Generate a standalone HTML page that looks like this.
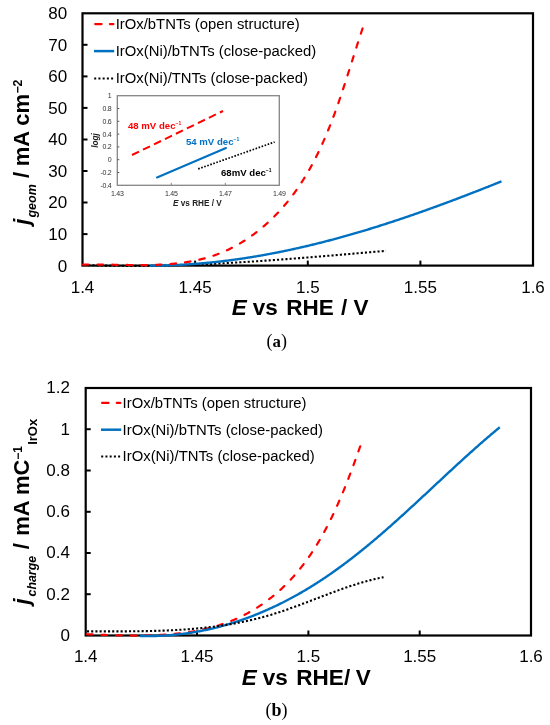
<!DOCTYPE html>
<html><head><meta charset="utf-8"><style>
html,body{margin:0;padding:0;background:#fff;width:550px;height:725px;overflow:hidden}
svg{display:block;filter:blur(0.35px)}
</style></head><body>
<svg width="550" height="725" viewBox="0 0 550 725" font-family="Liberation Sans, sans-serif" fill="#000">
<rect x="82.5" y="13.3" width="450.5" height="252.3" fill="none" stroke="#000" stroke-width="2.2"/>
<line x1="195.1" y1="265.6" x2="195.1" y2="260.6" stroke="#000" stroke-width="2"/>
<line x1="307.8" y1="265.6" x2="307.8" y2="260.6" stroke="#000" stroke-width="2"/>
<line x1="420.4" y1="265.6" x2="420.4" y2="260.6" stroke="#000" stroke-width="2"/>
<line x1="82.5" y1="234.1" x2="87.5" y2="234.1" stroke="#000" stroke-width="2"/>
<line x1="82.5" y1="202.5" x2="87.5" y2="202.5" stroke="#000" stroke-width="2"/>
<line x1="82.5" y1="171.0" x2="87.5" y2="171.0" stroke="#000" stroke-width="2"/>
<line x1="82.5" y1="139.5" x2="87.5" y2="139.5" stroke="#000" stroke-width="2"/>
<line x1="82.5" y1="107.9" x2="87.5" y2="107.9" stroke="#000" stroke-width="2"/>
<line x1="82.5" y1="76.4" x2="87.5" y2="76.4" stroke="#000" stroke-width="2"/>
<line x1="82.5" y1="44.8" x2="87.5" y2="44.8" stroke="#000" stroke-width="2"/>
<path d="M84.00 264.99 L84.76 265.01 L85.52 265.04 L86.28 265.07 L87.04 265.10 L87.80 265.12 L88.56 265.15 L89.32 265.17 L90.08 265.20 L90.84 265.22 L91.60 265.25 L92.36 265.27 L93.12 265.29 L93.88 265.31 L94.63 265.34 L95.39 265.36 L96.15 265.38 L96.91 265.40 L97.67 265.42 L98.43 265.44 L99.19 265.46 L99.95 265.48 L100.71 265.49 L101.47 265.51 L102.23 265.53 L102.99 265.55 L103.75 265.56 L104.51 265.58 L105.27 265.59 L106.03 265.61 L106.79 265.62 L107.54 265.64 L108.30 265.65 L109.06 265.66 L109.82 265.68 L110.58 265.69 L111.34 265.70 L112.10 265.71 L112.86 265.72 L113.62 265.73 L114.38 265.74 L115.14 265.75 L115.89 265.76 L116.65 265.77 L117.41 265.78 L118.17 265.79 L118.93 265.79 L119.69 265.80 L120.45 265.81 L121.21 265.81 L121.97 265.82 L122.72 265.82 L123.48 265.83 L124.24 265.83 L125.00 265.84 L125.76 265.84 L126.52 265.84 L127.28 265.85 L128.04 265.85 L128.79 265.85 L129.55 265.85 L130.31 265.85 L131.07 265.85 L131.83 265.85 L132.59 265.85 L133.35 265.85 L134.11 265.85 L134.86 265.85 L135.62 265.85 L136.38 265.85 L137.14 265.84 L137.90 265.84 L138.66 265.84 L139.41 265.83 L140.17 265.83 L140.93 265.83 L141.69 265.82 L142.45 265.82 L143.21 265.81 L143.96 265.80 L144.72 265.80 L145.48 265.79 L146.24 265.78 L147.00 265.77 L147.76 265.77 L148.51 265.76 L149.27 265.75 L150.03 265.74 L150.79 265.73 L151.55 265.72 L152.30 265.71 L153.06 265.70 L153.82 265.69 L154.58 265.68 L155.34 265.66 L156.10 265.65 L156.85 265.64 L157.61 265.63 L158.37 265.61 L159.13 265.60 L159.89 265.59 L160.64 265.57 L161.40 265.56 L162.16 265.54 L162.92 265.53 L163.67 265.51 L164.43 265.49 L165.19 265.48 L165.95 265.46 L166.71 265.44 L167.46 265.43 L168.22 265.41 L168.98 265.39 L169.74 265.37 L170.49 265.35 L171.25 265.33 L172.01 265.31 L172.77 265.29 L173.53 265.27 L174.28 265.25 L175.04 265.23 L175.80 265.21 L176.56 265.19 L177.31 265.16 L178.07 265.14 L178.83 265.12 L179.59 265.10 L180.34 265.07 L181.10 265.05 L181.86 265.03 L182.62 265.00 L183.37 264.98 L184.13 264.95 L184.89 264.93 L185.65 264.90 L186.40 264.87 L187.16 264.85 L187.92 264.82 L188.68 264.79 L189.43 264.77 L190.19 264.74 L190.95 264.71 L191.71 264.68 L192.46 264.65 L193.22 264.63 L193.98 264.60 L194.73 264.57 L195.49 264.54 L196.25 264.51 L197.01 264.48 L197.76 264.45 L198.52 264.42 L199.28 264.38 L200.03 264.35 L200.79 264.32 L201.55 264.29 L202.31 264.26 L203.06 264.22 L203.82 264.19 L204.58 264.16 L205.33 264.12 L206.09 264.09 L206.85 264.06 L207.61 264.02 L208.36 263.99 L209.12 263.95 L209.88 263.92 L210.63 263.88 L211.39 263.85 L212.15 263.81 L212.90 263.77 L213.66 263.74 L214.42 263.70 L215.17 263.66 L215.93 263.62 L216.69 263.59 L217.45 263.55 L218.20 263.51 L218.96 263.47 L219.72 263.43 L220.47 263.39 L221.23 263.35 L221.99 263.32 L222.74 263.28 L223.50 263.24 L224.26 263.20 L225.01 263.15 L225.77 263.11 L226.53 263.07 L227.28 263.03 L228.04 262.99 L228.80 262.95 L229.55 262.91 L230.31 262.86 L231.07 262.82 L231.82 262.78 L232.58 262.73 L233.34 262.69 L234.09 262.65 L234.85 262.60 L235.61 262.56 L236.36 262.52 L237.12 262.47 L237.88 262.43 L238.63 262.38 L239.39 262.34 L240.14 262.29 L240.90 262.25 L241.66 262.20 L242.41 262.15 L243.17 262.11 L243.93 262.06 L244.68 262.01 L245.44 261.97 L246.20 261.92 L246.95 261.87 L247.71 261.83 L248.47 261.78 L249.22 261.73 L249.98 261.68 L250.73 261.63 L251.49 261.58 L252.25 261.53 L253.00 261.49 L253.76 261.44 L254.52 261.39 L255.27 261.34 L256.03 261.29 L256.78 261.24 L257.54 261.19 L258.30 261.14 L259.05 261.09 L259.81 261.03 L260.57 260.98 L261.32 260.93 L262.08 260.88 L262.83 260.83 L263.59 260.78 L264.35 260.73 L265.10 260.67 L265.86 260.62 L266.61 260.57 L267.37 260.52 L268.13 260.46 L268.88 260.41 L269.64 260.36 L270.40 260.30 L271.15 260.25 L271.91 260.20 L272.66 260.14 L273.42 260.09 L274.18 260.03 L274.93 259.98 L275.69 259.92 L276.44 259.87 L277.20 259.81 L277.96 259.76 L278.71 259.70 L279.47 259.65 L280.22 259.59 L280.98 259.54 L281.74 259.48 L282.49 259.42 L283.25 259.37 L284.00 259.31 L284.76 259.25 L285.51 259.20 L286.27 259.14 L287.03 259.08 L287.78 259.03 L288.54 258.97 L289.29 258.91 L290.05 258.85 L290.81 258.80 L291.56 258.74 L292.32 258.68 L293.07 258.62 L293.83 258.56 L294.58 258.50 L295.34 258.45 L296.10 258.39 L296.85 258.33 L297.61 258.27 L298.36 258.21 L299.12 258.15 L299.88 258.09 L300.63 258.03 L301.39 257.97 L302.14 257.91 L302.90 257.85 L303.65 257.79 L304.41 257.73 L305.17 257.67 L305.92 257.61 L306.68 257.55 L307.43 257.49 L308.19 257.43 L308.94 257.37 L309.70 257.31 L310.46 257.25 L311.21 257.19 L311.97 257.12 L312.72 257.06 L313.48 257.00 L314.23 256.94 L314.99 256.88 L315.74 256.82 L316.50 256.75 L317.26 256.69 L318.01 256.63 L318.77 256.57 L319.52 256.51 L320.28 256.44 L321.03 256.38 L321.79 256.32 L322.54 256.26 L323.30 256.19 L324.06 256.13 L324.81 256.07 L325.57 256.00 L326.32 255.94 L327.08 255.88 L327.83 255.82 L328.59 255.75 L329.34 255.69 L330.10 255.63 L330.86 255.56 L331.61 255.50 L332.37 255.44 L333.12 255.37 L333.88 255.31 L334.63 255.24 L335.39 255.18 L336.14 255.12 L336.90 255.05 L337.65 254.99 L338.41 254.92 L339.17 254.86 L339.92 254.80 L340.68 254.73 L341.43 254.67 L342.19 254.60 L342.94 254.54 L343.70 254.48 L344.45 254.41 L345.21 254.35 L345.96 254.28 L346.72 254.22 L347.48 254.15 L348.23 254.09 L348.99 254.02 L349.74 253.96 L350.50 253.90 L351.25 253.83 L352.01 253.77 L352.76 253.70 L353.52 253.64 L354.27 253.57 L355.03 253.51 L355.78 253.44 L356.54 253.38 L357.30 253.31 L358.05 253.25 L358.81 253.18 L359.56 253.12 L360.32 253.05 L361.07 252.99 L361.83 252.92 L362.58 252.86 L363.34 252.79 L364.09 252.73 L364.85 252.66 L365.60 252.60 L366.36 252.53 L367.11 252.47 L367.87 252.41 L368.63 252.34 L369.38 252.28 L370.14 252.21 L370.89 252.15 L371.65 252.08 L372.40 252.02 L373.16 251.95 L373.91 251.89 L374.67 251.82 L375.42 251.76 L376.18 251.69 L376.93 251.63 L377.69 251.56 L378.44 251.50 L379.20 251.44 L379.95 251.37 L380.71 251.31 L381.46 251.24 L382.22 251.18 L382.98 251.11 L383.73 251.05 L384.49 250.98 L385.24 250.92 L386.00 250.86" fill="none" stroke="#000" stroke-width="2.1" stroke-dasharray="2.1 2.1"/>
<path d="M149.99 265.61 L150.91 265.61 L151.82 265.60 L152.74 265.60 L153.66 265.59 L154.58 265.59 L155.50 265.58 L156.42 265.57 L157.33 265.56 L158.25 265.55 L159.17 265.53 L160.09 265.52 L161.00 265.50 L161.92 265.48 L162.84 265.46 L163.75 265.44 L164.67 265.42 L165.59 265.39 L166.50 265.37 L167.42 265.34 L168.33 265.31 L169.25 265.28 L170.16 265.25 L171.08 265.22 L171.99 265.19 L172.91 265.15 L173.82 265.11 L174.74 265.08 L175.65 265.04 L176.56 264.99 L177.48 264.95 L178.39 264.91 L179.30 264.86 L180.22 264.82 L181.13 264.77 L182.04 264.72 L182.95 264.67 L183.87 264.62 L184.78 264.56 L185.69 264.51 L186.60 264.45 L187.51 264.40 L188.43 264.34 L189.34 264.28 L190.25 264.22 L191.16 264.15 L192.07 264.09 L192.98 264.03 L193.89 263.96 L194.80 263.89 L195.71 263.82 L196.62 263.75 L197.53 263.68 L198.44 263.61 L199.35 263.53 L200.26 263.45 L201.16 263.38 L202.07 263.30 L202.98 263.22 L203.89 263.14 L204.80 263.06 L205.70 262.97 L206.61 262.89 L207.52 262.80 L208.43 262.71 L209.33 262.63 L210.24 262.54 L211.15 262.44 L212.05 262.35 L212.96 262.26 L213.87 262.16 L214.77 262.07 L215.68 261.97 L216.58 261.87 L217.49 261.77 L218.39 261.67 L219.30 261.57 L220.20 261.46 L221.11 261.36 L222.01 261.25 L222.92 261.14 L223.82 261.03 L224.72 260.92 L225.63 260.81 L226.53 260.70 L227.43 260.59 L228.34 260.47 L229.24 260.36 L230.14 260.24 L231.04 260.12 L231.95 260.00 L232.85 259.88 L233.75 259.76 L234.65 259.64 L235.55 259.51 L236.45 259.39 L237.36 259.26 L238.26 259.13 L239.16 259.00 L240.06 258.87 L240.96 258.74 L241.86 258.61 L242.76 258.47 L243.66 258.34 L244.56 258.20 L245.46 258.07 L246.36 257.93 L247.25 257.79 L248.15 257.65 L249.05 257.51 L249.95 257.36 L250.85 257.22 L251.75 257.07 L252.64 256.93 L253.54 256.78 L254.44 256.63 L255.34 256.48 L256.23 256.33 L257.13 256.18 L258.03 256.03 L258.92 255.87 L259.82 255.72 L260.72 255.56 L261.61 255.41 L262.51 255.25 L263.40 255.09 L264.30 254.93 L265.19 254.77 L266.09 254.60 L266.98 254.44 L267.88 254.27 L268.77 254.11 L269.67 253.94 L270.56 253.77 L271.45 253.60 L272.35 253.43 L273.24 253.26 L274.13 253.09 L275.03 252.92 L275.92 252.74 L276.81 252.57 L277.71 252.39 L278.60 252.21 L279.49 252.03 L280.38 251.86 L281.27 251.67 L282.17 251.49 L283.06 251.31 L283.95 251.13 L284.84 250.94 L285.73 250.76 L286.62 250.57 L287.51 250.38 L288.40 250.19 L289.29 250.00 L290.18 249.81 L291.07 249.62 L291.96 249.43 L292.85 249.24 L293.74 249.04 L294.63 248.85 L295.51 248.65 L296.40 248.45 L297.29 248.25 L298.18 248.05 L299.07 247.85 L299.95 247.65 L300.84 247.45 L301.73 247.25 L302.62 247.04 L303.50 246.84 L304.39 246.63 L305.28 246.43 L306.16 246.22 L307.05 246.01 L307.94 245.80 L308.82 245.59 L309.71 245.38 L310.59 245.16 L311.48 244.95 L312.36 244.74 L313.25 244.52 L314.13 244.31 L315.02 244.09 L315.90 243.87 L316.78 243.65 L317.67 243.43 L318.55 243.21 L319.43 242.99 L320.32 242.77 L321.20 242.54 L322.08 242.32 L322.97 242.09 L323.85 241.87 L324.73 241.64 L325.61 241.41 L326.50 241.19 L327.38 240.96 L328.26 240.73 L329.14 240.49 L330.02 240.26 L330.90 240.03 L331.78 239.80 L332.66 239.56 L333.54 239.33 L334.42 239.09 L335.30 238.85 L336.18 238.62 L337.06 238.38 L337.94 238.14 L338.82 237.90 L339.70 237.66 L340.58 237.41 L341.46 237.17 L342.34 236.93 L343.21 236.68 L344.09 236.44 L344.97 236.19 L345.85 235.95 L346.73 235.70 L347.60 235.45 L348.48 235.20 L349.36 234.95 L350.23 234.70 L351.11 234.45 L351.99 234.20 L352.86 233.94 L353.74 233.69 L354.61 233.44 L355.49 233.18 L356.36 232.92 L357.24 232.67 L358.11 232.41 L358.99 232.15 L359.86 231.89 L360.74 231.63 L361.61 231.37 L362.49 231.11 L363.36 230.85 L364.23 230.59 L365.11 230.32 L365.98 230.06 L366.85 229.79 L367.73 229.53 L368.60 229.26 L369.47 229.00 L370.34 228.73 L371.21 228.46 L372.09 228.19 L372.96 227.92 L373.83 227.65 L374.70 227.38 L375.57 227.11 L376.44 226.84 L377.31 226.56 L378.18 226.29 L379.05 226.01 L379.92 225.74 L380.79 225.46 L381.66 225.19 L382.53 224.91 L383.40 224.63 L384.27 224.35 L385.14 224.07 L386.01 223.79 L386.88 223.51 L387.75 223.23 L388.61 222.95 L389.48 222.67 L390.35 222.38 L391.22 222.10 L392.08 221.82 L392.95 221.53 L393.82 221.25 L394.68 220.96 L395.55 220.67 L396.42 220.39 L397.28 220.10 L398.15 219.81 L399.02 219.52 L399.88 219.23 L400.75 218.94 L401.61 218.65 L402.48 218.36 L403.34 218.06 L404.21 217.77 L405.07 217.48 L405.93 217.18 L406.80 216.89 L407.66 216.60 L408.53 216.30 L409.39 216.00 L410.25 215.71 L411.12 215.41 L411.98 215.11 L412.84 214.81 L413.70 214.51 L414.57 214.21 L415.43 213.91 L416.29 213.61 L417.15 213.31 L418.01 213.01 L418.87 212.71 L419.73 212.41 L420.60 212.10 L421.46 211.80 L422.32 211.50 L423.18 211.19 L424.04 210.89 L424.90 210.58 L425.76 210.27 L426.62 209.97 L427.48 209.66 L428.33 209.35 L429.19 209.04 L430.05 208.73 L430.91 208.42 L431.77 208.11 L432.63 207.80 L433.48 207.49 L434.34 207.18 L435.20 206.87 L436.06 206.56 L436.91 206.25 L437.77 205.93 L438.63 205.62 L439.48 205.31 L440.34 204.99 L441.20 204.68 L442.05 204.36 L442.91 204.05 L443.76 203.73 L444.62 203.41 L445.47 203.10 L446.33 202.78 L447.18 202.46 L448.04 202.14 L448.89 201.82 L449.75 201.50 L450.60 201.18 L451.46 200.86 L452.31 200.54 L453.16 200.22 L454.02 199.90 L454.87 199.58 L455.72 199.26 L456.57 198.94 L457.43 198.61 L458.28 198.29 L459.13 197.97 L459.98 197.64 L460.83 197.32 L461.69 196.99 L462.54 196.67 L463.39 196.34 L464.24 196.02 L465.09 195.69 L465.94 195.36 L466.79 195.04 L467.64 194.71 L468.49 194.38 L469.34 194.05 L470.19 193.73 L471.04 193.40 L471.89 193.07 L472.74 192.74 L473.58 192.41 L474.43 192.08 L475.28 191.75 L476.13 191.42 L476.98 191.09 L477.82 190.76 L478.67 190.43 L479.52 190.09 L480.37 189.76 L481.21 189.43 L482.06 189.10 L482.91 188.76 L483.75 188.43 L484.60 188.10 L485.44 187.76 L486.29 187.43 L487.14 187.09 L487.98 186.76 L488.83 186.42 L489.67 186.09 L490.52 185.75 L491.36 185.42 L492.20 185.08 L493.05 184.75 L493.89 184.41 L494.74 184.07 L495.58 183.74 L496.42 183.40 L497.27 183.06 L498.11 182.72 L498.95 182.38 L499.79 182.05 L500.64 181.71 L501.48 181.37" fill="none" stroke="#0070C0" stroke-width="2.4"/>
<path d="M82.96 264.57 L84.00 264.55 L85.05 264.54 L86.09 264.53 L87.14 264.52 L88.18 264.51 L89.23 264.50 L90.28 264.50 L91.33 264.50 L92.38 264.50 L93.43 264.50 L94.48 264.50 L95.53 264.51 L96.58 264.51 L97.63 264.52 L98.68 264.53 L99.74 264.54 L100.79 264.55 L101.85 264.56 L102.90 264.57 L103.96 264.59 L105.01 264.60 L106.07 264.62 L107.12 264.63 L108.18 264.65 L109.24 264.67 L110.30 264.69 L111.35 264.71 L112.41 264.72 L113.47 264.74 L114.53 264.76 L115.59 264.78 L116.64 264.80 L117.70 264.82 L118.76 264.84 L119.82 264.86 L120.88 264.87 L121.94 264.89 L123.00 264.91 L124.06 264.93 L125.11 264.94 L126.17 264.96 L127.23 264.97 L128.29 264.99 L129.35 265.00 L130.41 265.01 L131.46 265.03 L132.52 265.04 L133.58 265.04 L134.63 265.05 L135.69 265.06 L136.75 265.06 L137.80 265.07 L138.86 265.07 L139.91 265.07 L140.97 265.07 L142.02 265.06 L143.08 265.06 L144.13 265.05 L145.18 265.04 L146.23 265.03 L147.29 265.01 L148.34 265.00 L149.39 264.98 L150.44 264.96 L151.49 264.94 L152.53 264.91 L153.58 264.88 L154.63 264.85 L155.67 264.82 L156.72 264.78 L157.76 264.74 L158.81 264.70 L159.85 264.65 L160.89 264.60 L161.93 264.55 L162.97 264.49 L164.01 264.43 L165.05 264.37 L166.08 264.30 L167.12 264.23 L168.15 264.16 L169.19 264.08 L170.22 264.00 L171.25 263.92 L172.28 263.83 L173.31 263.73 L174.34 263.64 L175.36 263.53 L176.39 263.43 L177.41 263.32 L178.44 263.20 L179.46 263.08 L180.48 262.96 L181.49 262.83 L182.51 262.70 L183.53 262.56 L184.54 262.42 L185.55 262.27 L186.56 262.11 L187.57 261.95 L188.58 261.79 L189.59 261.62 L190.59 261.45 L191.59 261.27 L192.59 261.08 L193.59 260.89 L194.59 260.69 L195.59 260.49 L196.58 260.28 L197.57 260.07 L198.56 259.85 L199.55 259.62 L200.54 259.39 L201.52 259.15 L202.51 258.90 L203.49 258.65 L204.47 258.39 L205.45 258.13 L206.42 257.86 L207.39 257.58 L208.36 257.29 L209.33 257.00 L210.30 256.70 L211.26 256.40 L212.23 256.09 L213.19 255.77 L214.14 255.44 L215.10 255.11 L216.05 254.77 L217.00 254.42 L217.95 254.06 L218.90 253.70 L219.84 253.33 L220.79 252.95 L221.72 252.56 L222.66 252.17 L223.60 251.77 L224.53 251.36 L225.46 250.95 L226.38 250.53 L227.31 250.10 L228.23 249.66 L229.15 249.22 L230.06 248.77 L230.98 248.32 L231.89 247.85 L232.80 247.38 L233.70 246.91 L234.61 246.43 L235.51 245.94 L236.40 245.44 L237.30 244.94 L238.19 244.43 L239.08 243.92 L239.96 243.40 L240.84 242.87 L241.72 242.34 L242.60 241.80 L243.48 241.26 L244.35 240.71 L245.21 240.15 L246.08 239.59 L246.94 239.02 L247.80 238.44 L248.65 237.86 L249.50 237.28 L250.35 236.69 L251.20 236.09 L252.04 235.49 L252.88 234.88 L253.71 234.27 L254.55 233.65 L255.38 233.02 L256.20 232.39 L257.02 231.76 L257.84 231.12 L258.66 230.47 L259.47 229.82 L260.28 229.17 L261.08 228.51 L261.88 227.84 L262.68 227.17 L263.47 226.50 L264.26 225.82 L265.05 225.13 L265.83 224.45 L266.61 223.75 L267.39 223.05 L268.16 222.35 L268.93 221.64 L269.69 220.93 L270.45 220.22 L271.21 219.50 L271.96 218.77 L272.71 218.04 L273.45 217.31 L274.19 216.57 L274.93 215.83 L275.66 215.09 L276.39 214.34 L277.12 213.59 L277.84 212.83 L278.55 212.07 L279.27 211.31 L279.97 210.54 L280.68 209.77 L281.38 208.99 L282.07 208.21 L282.76 207.43 L283.45 206.64 L284.13 205.86 L284.81 205.06 L285.49 204.27 L286.16 203.47 L286.82 202.67 L287.48 201.86 L288.14 201.05 L288.79 200.24 L289.44 199.43 L290.08 198.61 L290.72 197.79 L291.35 196.96 L291.99 196.14 L292.61 195.31 L293.23 194.47 L293.85 193.64 L294.47 192.80 L295.07 191.96 L295.68 191.12 L296.28 190.27 L296.88 189.42 L297.47 188.57 L298.06 187.71 L298.65 186.86 L299.23 186.00 L299.81 185.13 L300.38 184.27 L300.95 183.40 L301.52 182.53 L302.08 181.66 L302.64 180.78 L303.20 179.90 L303.75 179.02 L304.30 178.14 L304.84 177.25 L305.38 176.36 L305.92 175.47 L306.45 174.58 L306.98 173.69 L307.51 172.79 L308.03 171.89 L308.55 170.99 L309.07 170.09 L309.58 169.18 L310.09 168.27 L310.60 167.36 L311.10 166.45 L311.60 165.53 L312.10 164.62 L312.59 163.70 L313.08 162.78 L313.57 161.86 L314.05 160.93 L314.53 160.01 L315.01 159.08 L315.48 158.15 L315.95 157.22 L316.42 156.28 L316.89 155.35 L317.35 154.41 L317.81 153.47 L318.27 152.53 L318.72 151.59 L319.17 150.64 L319.62 149.70 L320.07 148.75 L320.51 147.80 L320.95 146.85 L321.39 145.90 L321.82 144.94 L322.26 143.99 L322.69 143.03 L323.11 142.07 L323.54 141.11 L323.96 140.15 L324.38 139.19 L324.80 138.23 L325.21 137.26 L325.62 136.30 L326.03 135.33 L326.44 134.36 L326.85 133.39 L327.25 132.42 L327.65 131.45 L328.05 130.47 L328.45 129.50 L328.84 128.52 L329.23 127.55 L329.62 126.57 L330.01 125.59 L330.40 124.61 L330.78 123.63 L331.16 122.65 L331.54 121.67 L331.92 120.68 L332.30 119.70 L332.67 118.71 L333.04 117.73 L333.41 116.74 L333.78 115.76 L334.15 114.77 L334.51 113.78 L334.88 112.79 L335.24 111.80 L335.60 110.81 L335.96 109.82 L336.31 108.82 L336.67 107.83 L337.02 106.84 L337.37 105.85 L337.72 104.85 L338.07 103.86 L338.42 102.86 L338.77 101.87 L339.11 100.87 L339.45 99.88 L339.80 98.88 L340.14 97.88 L340.48 96.89 L340.82 95.89 L341.15 94.89 L341.49 93.89 L341.82 92.90 L342.16 91.90 L342.49 90.90 L342.82 89.90 L343.15 88.91 L343.48 87.91 L343.81 86.91 L344.13 85.91 L344.46 84.91 L344.79 83.92 L345.11 82.92 L345.43 81.92 L345.76 80.92 L346.08 79.92 L346.40 78.93 L346.72 77.93 L347.04 76.93 L347.36 75.94 L347.68 74.94 L347.99 73.94 L348.31 72.95 L348.63 71.95 L348.94 70.96 L349.26 69.96 L349.57 68.97 L349.89 67.98 L350.20 66.98 L350.52 65.99 L350.83 65.00 L351.14 64.01 L351.45 63.02 L351.77 62.03 L352.08 61.04 L352.39 60.05 L352.70 59.06 L353.01 58.07 L353.32 57.08 L353.63 56.10 L353.95 55.11 L354.26 54.13 L354.57 53.14 L354.88 52.16 L355.19 51.18 L355.50 50.20 L355.81 49.22 L356.12 48.24 L356.43 47.26 L356.74 46.29 L357.05 45.31 L357.36 44.33 L357.68 43.36 L357.99 42.39 L358.30 41.42 L358.61 40.45 L358.93 39.48 L359.24 38.51 L359.55 37.54 L359.87 36.58 L360.18 35.61 L360.50 34.65 L360.81 33.69 L361.13 32.73 L361.44 31.77 L361.76 30.82 L362.08 29.86 L362.40 28.91 L362.72 27.95" fill="none" stroke="#FF0000" stroke-width="2.2" stroke-linecap="round" stroke-dasharray="5.5 9.1"/>
<text x="67.2" y="271.5" text-anchor="end" font-size="17">0</text>
<text x="67.2" y="240.0" text-anchor="end" font-size="17">10</text>
<text x="67.2" y="208.4" text-anchor="end" font-size="17">20</text>
<text x="67.2" y="176.9" text-anchor="end" font-size="17">30</text>
<text x="67.2" y="145.4" text-anchor="end" font-size="17">40</text>
<text x="67.2" y="113.8" text-anchor="end" font-size="17">50</text>
<text x="67.2" y="82.3" text-anchor="end" font-size="17">60</text>
<text x="67.2" y="50.7" text-anchor="end" font-size="17">70</text>
<text x="67.2" y="19.2" text-anchor="end" font-size="17">80</text>
<text x="82.5" y="292.6" text-anchor="middle" font-size="17">1.4</text>
<text x="195.1" y="292.6" text-anchor="middle" font-size="17">1.45</text>
<text x="307.8" y="292.6" text-anchor="middle" font-size="17">1.5</text>
<text x="420.4" y="292.6" text-anchor="middle" font-size="17">1.55</text>
<text x="533.0" y="292.6" text-anchor="middle" font-size="17">1.6</text>
<g transform="rotate(-90)" font-weight="bold">
<text x="-224.8" y="29.2" font-size="22" font-style="italic">j</text>
<text x="-217.6" y="36.2" font-size="12.5" font-style="italic">geom</text>
<text x="-178" y="29.1" font-size="22">/</text>
<text x="-166.2" y="29.1" font-size="22">mA</text>
<text x="-125.7" y="29.1" font-size="22">cm</text>
<text x="-93.6" y="22" font-size="12.3">&#8722;2</text>
</g>
<g font-weight="bold" font-size="22.5">
<text x="231.8" y="315.4" font-style="italic">E</text>
<text x="252.8" y="315.4">vs</text>
<text x="286.2" y="315.4">RHE</text>
<text x="340.9" y="315.4">/</text>
<text x="353.5" y="315.4">V</text>
</g>
<text x="266.5" y="347" font-size="18" font-family='Liberation Serif', serif>(<tspan font-weight="bold" font-size="16.8">a</tspan>)</text>
<line x1="95.2" y1="24.1" x2="113.4" y2="24.1" stroke="#FF0000" stroke-width="2.2" stroke-linecap="round" stroke-dasharray="6.4 8.3"/>
<text x="115.7" y="28.8" font-size="14.85">IrOx/bTNTs (open structure)</text>
<line x1="94" y1="51.1" x2="114.2" y2="51.1" stroke="#0070C0" stroke-width="2.5"/>
<text x="115.7" y="55.9" font-size="14.85">IrOx(Ni)/bTNTs (close-packed)</text>
<line x1="94.2" y1="78.5" x2="113.2" y2="78.5" stroke="#000" stroke-width="2" stroke-dasharray="2 2.23"/>
<text x="115.7" y="83.1" font-size="14.85">IrOx(Ni)/TNTs (close-packed)</text>
<rect x="117.3" y="95.7" width="162.0" height="89.6" fill="#fff" stroke="#858585" stroke-width="1.3"/>
<line x1="171.3" y1="185.3" x2="171.3" y2="182.8" stroke="#858585" stroke-width="1"/>
<line x1="225.3" y1="185.3" x2="225.3" y2="182.8" stroke="#858585" stroke-width="1"/>
<line x1="117.3" y1="172.5" x2="119.3" y2="172.5" stroke="#555" stroke-width="1"/>
<line x1="117.3" y1="159.7" x2="119.3" y2="159.7" stroke="#555" stroke-width="1"/>
<line x1="117.3" y1="146.9" x2="119.3" y2="146.9" stroke="#555" stroke-width="1"/>
<line x1="117.3" y1="134.1" x2="119.3" y2="134.1" stroke="#555" stroke-width="1"/>
<line x1="117.3" y1="121.3" x2="119.3" y2="121.3" stroke="#555" stroke-width="1"/>
<line x1="117.3" y1="108.5" x2="119.3" y2="108.5" stroke="#555" stroke-width="1"/>
<text x="111.4" y="187.7" text-anchor="end" font-size="7" fill="#303030" letter-spacing="-0.3">-0.4</text>
<text x="111.4" y="174.9" text-anchor="end" font-size="7" fill="#303030" letter-spacing="-0.3">-0.2</text>
<text x="111.4" y="162.1" text-anchor="end" font-size="7" fill="#303030" letter-spacing="-0.3">0</text>
<text x="111.4" y="149.3" text-anchor="end" font-size="7" fill="#303030" letter-spacing="-0.3">0.2</text>
<text x="111.4" y="136.5" text-anchor="end" font-size="7" fill="#303030" letter-spacing="-0.3">0.4</text>
<text x="111.4" y="123.7" text-anchor="end" font-size="7" fill="#303030" letter-spacing="-0.3">0.6</text>
<text x="111.4" y="110.9" text-anchor="end" font-size="7" fill="#303030" letter-spacing="-0.3">0.8</text>
<text x="111.4" y="98.1" text-anchor="end" font-size="7" fill="#303030" letter-spacing="-0.3">1</text>
<text x="117.3" y="195.8" text-anchor="middle" font-size="7" fill="#303030" letter-spacing="-0.3">1.43</text>
<text x="171.3" y="195.8" text-anchor="middle" font-size="7" fill="#303030" letter-spacing="-0.3">1.45</text>
<text x="225.3" y="195.8" text-anchor="middle" font-size="7" fill="#303030" letter-spacing="-0.3">1.47</text>
<text x="279.3" y="195.8" text-anchor="middle" font-size="7" fill="#303030" letter-spacing="-0.3">1.49</text>
<text transform="translate(97.6 140.4) rotate(-90)" text-anchor="middle" font-size="8.2" font-weight="bold" font-style="italic" fill="#222">logj</text>
<text x="173" y="205.9" font-size="8.2" font-weight="bold" fill="#222"><tspan font-style="italic">E</tspan> vs RHE / V</text>
<line x1="132" y1="155" x2="223" y2="111" stroke="#FF0000" stroke-width="2" stroke-dasharray="7.8 4.4"/>
<path d="M157 177.5 Q190 163.5 226 148" fill="none" stroke="#0070C0" stroke-width="2" stroke-linecap="round"/>
<line x1="198.2" y1="168.9" x2="274.6" y2="142" stroke="#000" stroke-width="1.7" stroke-dasharray="1.6 1.6"/>
<text x="128" y="128.7" font-size="9.6" font-weight="bold" fill="#FF0000">48 mV dec<tspan font-size="5" dy="-4">&#8722;1</tspan></text>
<text x="186" y="144.8" font-size="9.6" font-weight="bold" fill="#0070C0">54 mV dec<tspan font-size="5" dy="-4">&#8722;1</tspan></text>
<text x="221" y="175.9" font-size="9.6" font-weight="bold" fill="#000">68mV dec<tspan font-size="5" dy="-4">&#8722;1</tspan></text>
<rect x="85.7" y="388.0" width="445.3" height="247.5" fill="none" stroke="#000" stroke-width="2.2"/>
<line x1="197.0" y1="635.5" x2="197.0" y2="630.5" stroke="#000" stroke-width="2"/>
<line x1="308.4" y1="635.5" x2="308.4" y2="630.5" stroke="#000" stroke-width="2"/>
<line x1="419.7" y1="635.5" x2="419.7" y2="630.5" stroke="#000" stroke-width="2"/>
<line x1="85.7" y1="594.2" x2="90.7" y2="594.2" stroke="#000" stroke-width="2"/>
<line x1="85.7" y1="553.0" x2="90.7" y2="553.0" stroke="#000" stroke-width="2"/>
<line x1="85.7" y1="511.8" x2="90.7" y2="511.8" stroke="#000" stroke-width="2"/>
<line x1="85.7" y1="470.5" x2="90.7" y2="470.5" stroke="#000" stroke-width="2"/>
<line x1="85.7" y1="429.2" x2="90.7" y2="429.2" stroke="#000" stroke-width="2"/>
<path d="M86.97 634.27 L87.89 634.30 L88.82 634.34 L89.74 634.37 L90.67 634.41 L91.60 634.44 L92.53 634.47 L93.46 634.51 L94.39 634.54 L95.32 634.58 L96.25 634.61 L97.19 634.65 L98.12 634.68 L99.05 634.72 L99.99 634.75 L100.92 634.78 L101.86 634.82 L102.80 634.85 L103.73 634.88 L104.67 634.91 L105.61 634.94 L106.55 634.98 L107.49 635.01 L108.43 635.04 L109.37 635.07 L110.31 635.09 L111.25 635.12 L112.19 635.15 L113.13 635.18 L114.07 635.20 L115.01 635.23 L115.95 635.25 L116.90 635.28 L117.84 635.30 L118.78 635.32 L119.73 635.34 L120.67 635.36 L121.61 635.38 L122.56 635.40 L123.50 635.42 L124.45 635.43 L125.39 635.45 L126.34 635.46 L127.28 635.48 L128.23 635.49 L129.17 635.50 L130.12 635.51 L131.06 635.51 L132.01 635.52 L132.95 635.53 L133.90 635.53 L134.84 635.53 L135.79 635.53 L136.73 635.53 L137.68 635.53 L138.62 635.52 L139.57 635.52 L140.51 635.51 L141.45 635.50 L142.40 635.49 L143.34 635.48 L144.29 635.47 L145.23 635.45 L146.17 635.43 L147.12 635.41 L148.06 635.39 L149.00 635.37 L149.94 635.34 L150.88 635.31 L151.83 635.28 L152.77 635.25 L153.71 635.22 L154.65 635.18 L155.59 635.15 L156.53 635.11 L157.47 635.06 L158.40 635.02 L159.34 634.97 L160.28 634.92 L161.22 634.87 L162.15 634.82 L163.09 634.76 L164.02 634.70 L164.96 634.64 L165.89 634.58 L166.83 634.51 L167.76 634.44 L168.69 634.37 L169.62 634.30 L170.55 634.22 L171.48 634.14 L172.41 634.06 L173.34 633.97 L174.27 633.88 L175.20 633.79 L176.12 633.70 L177.05 633.60 L177.97 633.50 L178.89 633.40 L179.82 633.30 L180.74 633.19 L181.66 633.08 L182.58 632.96 L183.50 632.84 L184.42 632.72 L185.33 632.60 L186.25 632.47 L187.17 632.34 L188.08 632.21 L188.99 632.07 L189.90 631.93 L190.81 631.79 L191.72 631.64 L192.63 631.49 L193.54 631.33 L194.45 631.17 L195.35 631.01 L196.26 630.85 L197.16 630.68 L198.06 630.51 L198.96 630.33 L199.86 630.15 L200.76 629.97 L201.65 629.78 L202.55 629.59 L203.44 629.39 L204.33 629.19 L205.23 628.99 L206.11 628.79 L207.00 628.57 L207.89 628.36 L208.77 628.14 L209.66 627.92 L210.54 627.69 L211.42 627.46 L212.30 627.22 L213.18 626.99 L214.06 626.74 L214.93 626.49 L215.80 626.24 L216.68 625.98 L217.55 625.72 L218.41 625.46 L219.28 625.19 L220.15 624.91 L221.01 624.63 L221.87 624.35 L222.73 624.06 L223.59 623.77 L224.44 623.47 L225.30 623.17 L226.15 622.86 L227.00 622.55 L227.85 622.24 L228.70 621.92 L229.55 621.59 L230.39 621.26 L231.23 620.92 L232.07 620.58 L232.91 620.24 L233.74 619.89 L234.58 619.53 L235.41 619.17 L236.24 618.81 L237.07 618.44 L237.89 618.06 L238.72 617.68 L239.54 617.30 L240.36 616.91 L241.18 616.51 L241.99 616.11 L242.81 615.71 L243.62 615.30 L244.43 614.89 L245.23 614.47 L246.04 614.04 L246.84 613.62 L247.64 613.18 L248.44 612.75 L249.23 612.30 L250.03 611.86 L250.82 611.41 L251.61 610.95 L252.39 610.49 L253.18 610.03 L253.96 609.56 L254.74 609.08 L255.51 608.60 L256.29 608.12 L257.06 607.63 L257.83 607.14 L258.60 606.65 L259.36 606.15 L260.12 605.64 L260.88 605.13 L261.64 604.62 L262.39 604.10 L263.14 603.58 L263.89 603.05 L264.64 602.52 L265.38 601.99 L266.12 601.45 L266.86 600.91 L267.60 600.36 L268.33 599.81 L269.06 599.25 L269.79 598.69 L270.51 598.13 L271.23 597.56 L271.95 596.99 L272.67 596.41 L273.38 595.83 L274.09 595.25 L274.80 594.66 L275.50 594.07 L276.20 593.47 L276.90 592.87 L277.60 592.27 L278.29 591.66 L278.98 591.05 L279.67 590.44 L280.35 589.82 L281.03 589.20 L281.71 588.57 L282.39 587.94 L283.06 587.31 L283.73 586.67 L284.39 586.03 L285.05 585.39 L285.71 584.74 L286.37 584.09 L287.02 583.43 L287.67 582.77 L288.32 582.11 L288.96 581.44 L289.60 580.77 L290.24 580.10 L290.87 579.42 L291.50 578.74 L292.13 578.06 L292.75 577.37 L293.37 576.68 L293.99 575.99 L294.60 575.29 L295.21 574.59 L295.82 573.89 L296.42 573.18 L297.02 572.47 L297.62 571.76 L298.21 571.04 L298.80 570.33 L299.39 569.60 L299.97 568.88 L300.55 568.15 L301.13 567.42 L301.71 566.69 L302.28 565.95 L302.85 565.21 L303.42 564.47 L303.98 563.72 L304.54 562.97 L305.09 562.22 L305.65 561.47 L306.20 560.71 L306.75 559.95 L307.29 559.19 L307.84 558.43 L308.37 557.66 L308.91 556.89 L309.44 556.12 L309.98 555.35 L310.50 554.57 L311.03 553.79 L311.55 553.01 L312.07 552.23 L312.59 551.44 L313.10 550.65 L313.61 549.86 L314.12 549.07 L314.63 548.27 L315.13 547.48 L315.63 546.68 L316.13 545.88 L316.62 545.07 L317.11 544.27 L317.60 543.46 L318.09 542.65 L318.58 541.84 L319.06 541.03 L319.54 540.21 L320.01 539.40 L320.49 538.58 L320.96 537.76 L321.43 536.93 L321.90 536.11 L322.36 535.29 L322.82 534.46 L323.28 533.63 L323.74 532.80 L324.20 531.97 L324.65 531.13 L325.10 530.30 L325.55 529.46 L325.99 528.63 L326.43 527.79 L326.87 526.95 L327.31 526.10 L327.75 525.26 L328.18 524.42 L328.61 523.57 L329.04 522.72 L329.47 521.88 L329.90 521.03 L330.32 520.18 L330.74 519.33 L331.16 518.47 L331.57 517.62 L331.99 516.77 L332.40 515.91 L332.81 515.05 L333.22 514.20 L333.62 513.34 L334.03 512.48 L334.43 511.62 L334.83 510.76 L335.23 509.90 L335.62 509.04 L336.02 508.17 L336.41 507.31 L336.80 506.45 L337.19 505.58 L337.57 504.72 L337.96 503.85 L338.34 502.99 L338.72 502.12 L339.10 501.25 L339.48 500.39 L339.85 499.52 L340.22 498.65 L340.60 497.78 L340.97 496.92 L341.33 496.05 L341.70 495.18 L342.07 494.31 L342.43 493.44 L342.79 492.57 L343.15 491.70 L343.51 490.83 L343.86 489.96 L344.22 489.09 L344.57 488.22 L344.92 487.35 L345.27 486.48 L345.62 485.62 L345.97 484.75 L346.31 483.88 L346.66 483.01 L347.00 482.14 L347.34 481.27 L347.68 480.41 L348.02 479.54 L348.35 478.67 L348.69 477.81 L349.02 476.94 L349.35 476.07 L349.69 475.21 L350.02 474.35 L350.34 473.48 L350.67 472.62 L351.00 471.76 L351.32 470.89 L351.64 470.03 L351.96 469.17 L352.29 468.31 L352.60 467.45 L352.92 466.60 L353.24 465.74 L353.56 464.88 L353.87 464.03 L354.18 463.17 L354.50 462.32 L354.81 461.47 L355.12 460.62 L355.43 459.77 L355.73 458.92 L356.04 458.07 L356.35 457.22 L356.65 456.38 L356.96 455.53 L357.26 454.69 L357.56 453.85 L357.86 453.01 L358.16 452.17 L358.46 451.33 L358.76 450.49 L359.05 449.66 L359.35 448.82 L359.65 447.99 L359.94 447.16 L360.23 446.33" fill="none" stroke="#FF0000" stroke-width="2.2" stroke-linecap="round" stroke-dasharray="5.5 9.1"/>
<path d="M139.93 635.93 L141.04 635.96 L142.14 635.99 L143.25 636.01 L144.36 636.03 L145.46 636.05 L146.57 636.06 L147.67 636.06 L148.77 636.06 L149.88 636.06 L150.98 636.05 L152.08 636.04 L153.17 636.02 L154.27 636.00 L155.37 635.97 L156.46 635.94 L157.56 635.91 L158.65 635.87 L159.75 635.82 L160.84 635.78 L161.93 635.72 L163.02 635.67 L164.11 635.60 L165.19 635.54 L166.28 635.47 L167.37 635.40 L168.45 635.32 L169.54 635.23 L170.62 635.15 L171.70 635.06 L172.78 634.96 L173.86 634.86 L174.94 634.76 L176.02 634.65 L177.09 634.54 L178.17 634.42 L179.24 634.30 L180.32 634.18 L181.39 634.05 L182.46 633.91 L183.53 633.78 L184.60 633.64 L185.67 633.49 L186.73 633.34 L187.80 633.19 L188.87 633.03 L189.93 632.87 L190.99 632.70 L192.05 632.53 L193.11 632.36 L194.17 632.18 L195.23 632.00 L196.29 631.82 L197.35 631.63 L198.40 631.43 L199.46 631.24 L200.51 631.03 L201.56 630.83 L202.61 630.62 L203.66 630.41 L204.71 630.19 L205.76 629.97 L206.80 629.75 L207.85 629.52 L208.89 629.29 L209.94 629.05 L210.98 628.81 L212.02 628.57 L213.06 628.32 L214.10 628.07 L215.13 627.82 L216.17 627.56 L217.20 627.30 L218.24 627.03 L219.27 626.76 L220.30 626.49 L221.33 626.21 L222.36 625.93 L223.39 625.65 L224.41 625.36 L225.44 625.07 L226.46 624.77 L227.49 624.48 L228.51 624.17 L229.53 623.87 L230.55 623.56 L231.57 623.25 L232.59 622.93 L233.60 622.61 L234.62 622.29 L235.63 621.96 L236.64 621.63 L237.65 621.30 L238.66 620.96 L239.67 620.62 L240.68 620.28 L241.69 619.93 L242.69 619.58 L243.69 619.23 L244.70 618.87 L245.70 618.51 L246.70 618.15 L247.70 617.78 L248.69 617.41 L249.69 617.04 L250.69 616.66 L251.68 616.28 L252.67 615.90 L253.66 615.51 L254.65 615.12 L255.64 614.73 L256.63 614.33 L257.61 613.94 L258.60 613.53 L259.58 613.13 L260.56 612.72 L261.55 612.31 L262.53 611.89 L263.50 611.47 L264.48 611.05 L265.46 610.63 L266.43 610.20 L267.40 609.77 L268.38 609.34 L269.35 608.90 L270.31 608.46 L271.28 608.02 L272.25 607.57 L273.21 607.12 L274.18 606.67 L275.14 606.22 L276.10 605.76 L277.06 605.30 L278.02 604.84 L278.98 604.37 L279.93 603.90 L280.89 603.43 L281.84 602.95 L282.79 602.48 L283.74 602.00 L284.69 601.51 L285.64 601.03 L286.58 600.54 L287.53 600.05 L288.47 599.55 L289.41 599.05 L290.35 598.55 L291.29 598.05 L292.23 597.54 L293.17 597.04 L294.10 596.53 L295.04 596.01 L295.97 595.50 L296.90 594.98 L297.83 594.46 L298.76 593.93 L299.68 593.40 L300.61 592.87 L301.53 592.34 L302.45 591.81 L303.37 591.27 L304.29 590.73 L305.21 590.19 L306.13 589.64 L307.04 589.10 L307.96 588.55 L308.87 587.99 L309.78 587.44 L310.69 586.88 L311.60 586.32 L312.50 585.76 L313.41 585.19 L314.31 584.63 L315.21 584.06 L316.11 583.49 L317.01 582.91 L317.91 582.34 L318.81 581.76 L319.70 581.18 L320.59 580.59 L321.49 580.01 L322.38 579.42 L323.26 578.83 L324.15 578.23 L325.04 577.64 L325.92 577.04 L326.81 576.44 L327.69 575.84 L328.57 575.24 L329.45 574.63 L330.33 574.02 L331.20 573.41 L332.08 572.80 L332.95 572.19 L333.83 571.57 L334.70 570.95 L335.57 570.33 L336.44 569.71 L337.31 569.09 L338.17 568.46 L339.04 567.83 L339.90 567.20 L340.76 566.57 L341.63 565.94 L342.49 565.30 L343.35 564.67 L344.20 564.03 L345.06 563.39 L345.92 562.74 L346.77 562.10 L347.63 561.45 L348.48 560.80 L349.33 560.15 L350.18 559.50 L351.03 558.85 L351.88 558.19 L352.73 557.54 L353.57 556.88 L354.42 556.22 L355.26 555.56 L356.10 554.89 L356.95 554.23 L357.79 553.56 L358.63 552.89 L359.47 552.22 L360.30 551.55 L361.14 550.88 L361.98 550.21 L362.81 549.53 L363.65 548.85 L364.48 548.18 L365.31 547.50 L366.14 546.82 L366.97 546.13 L367.80 545.45 L368.63 544.76 L369.46 544.08 L370.29 543.39 L371.11 542.70 L371.94 542.01 L372.76 541.32 L373.59 540.63 L374.41 539.93 L375.23 539.24 L376.05 538.54 L376.87 537.84 L377.69 537.14 L378.51 536.44 L379.33 535.74 L380.15 535.04 L380.96 534.34 L381.78 533.63 L382.59 532.93 L383.41 532.22 L384.22 531.52 L385.04 530.81 L385.85 530.10 L386.66 529.39 L387.47 528.68 L388.28 527.96 L389.09 527.25 L389.90 526.54 L390.71 525.82 L391.52 525.11 L392.32 524.39 L393.13 523.67 L393.94 522.96 L394.74 522.24 L395.55 521.52 L396.35 520.80 L397.15 520.08 L397.96 519.35 L398.76 518.63 L399.56 517.91 L400.36 517.19 L401.17 516.46 L401.97 515.74 L402.77 515.01 L403.57 514.28 L404.37 513.56 L405.16 512.83 L405.96 512.10 L406.76 511.37 L407.56 510.64 L408.36 509.91 L409.15 509.18 L409.95 508.45 L410.75 507.72 L411.54 506.99 L412.34 506.26 L413.13 505.53 L413.93 504.80 L414.72 504.06 L415.51 503.33 L416.31 502.60 L417.10 501.86 L417.89 501.13 L418.69 500.39 L419.48 499.66 L420.27 498.92 L421.06 498.19 L421.86 497.45 L422.65 496.72 L423.44 495.98 L424.23 495.25 L425.02 494.51 L425.81 493.78 L426.60 493.04 L427.39 492.30 L428.18 491.57 L428.97 490.83 L429.76 490.10 L430.55 489.36 L431.34 488.62 L432.13 487.89 L432.92 487.15 L433.71 486.41 L434.50 485.68 L435.29 484.94 L436.07 484.21 L436.86 483.47 L437.65 482.74 L438.44 482.00 L439.23 481.27 L440.02 480.53 L440.81 479.80 L441.60 479.06 L442.38 478.33 L443.17 477.59 L443.96 476.86 L444.75 476.13 L445.54 475.39 L446.33 474.66 L447.12 473.93 L447.91 473.20 L448.70 472.46 L449.49 471.73 L450.27 471.00 L451.06 470.27 L451.85 469.54 L452.64 468.81 L453.43 468.08 L454.22 467.35 L455.01 466.63 L455.80 465.90 L456.59 465.17 L457.38 464.45 L458.18 463.72 L458.97 463.00 L459.76 462.27 L460.55 461.55 L461.34 460.82 L462.13 460.10 L462.93 459.38 L463.72 458.66 L464.51 457.94 L465.30 457.22 L466.10 456.50 L466.89 455.78 L467.68 455.07 L468.48 454.35 L469.27 453.63 L470.07 452.92 L470.86 452.21 L471.66 451.49 L472.46 450.78 L473.25 450.07 L474.05 449.36 L474.85 448.65 L475.64 447.94 L476.44 447.24 L477.24 446.53 L478.04 445.83 L478.84 445.12 L479.64 444.42 L480.44 443.72 L481.24 443.02 L482.04 442.32 L482.84 441.62 L483.65 440.92 L484.45 440.22 L485.25 439.53 L486.06 438.84 L486.86 438.14 L487.67 437.45 L488.47 436.76 L489.28 436.07 L490.08 435.38 L490.89 434.70 L491.70 434.01 L492.51 433.33 L493.32 432.65 L494.13 431.97 L494.94 431.29 L495.75 430.61 L496.56 429.93 L497.37 429.26 L498.19 428.58 L499.00 427.91 L499.81 427.24" fill="none" stroke="#0070C0" stroke-width="2.4"/>
<path d="M86.98 631.38 L87.76 631.38 L88.54 631.38 L89.32 631.38 L90.10 631.38 L90.88 631.38 L91.66 631.38 L92.44 631.38 L93.22 631.38 L94.00 631.38 L94.77 631.38 L95.55 631.38 L96.33 631.38 L97.11 631.38 L97.89 631.38 L98.66 631.38 L99.44 631.38 L100.22 631.38 L100.99 631.38 L101.77 631.38 L102.55 631.38 L103.32 631.38 L104.10 631.38 L104.87 631.38 L105.65 631.38 L106.42 631.39 L107.20 631.39 L107.97 631.39 L108.75 631.38 L109.52 631.38 L110.29 631.38 L111.07 631.38 L111.84 631.38 L112.61 631.38 L113.39 631.38 L114.16 631.38 L114.93 631.38 L115.70 631.38 L116.48 631.38 L117.25 631.38 L118.02 631.37 L118.79 631.37 L119.56 631.37 L120.33 631.37 L121.10 631.36 L121.87 631.36 L122.64 631.36 L123.41 631.35 L124.18 631.35 L124.95 631.35 L125.72 631.34 L126.49 631.34 L127.26 631.33 L128.03 631.33 L128.80 631.32 L129.57 631.32 L130.33 631.31 L131.10 631.31 L131.87 631.30 L132.64 631.29 L133.40 631.28 L134.17 631.28 L134.94 631.27 L135.70 631.26 L136.47 631.25 L137.24 631.24 L138.00 631.23 L138.77 631.22 L139.53 631.21 L140.30 631.20 L141.06 631.19 L141.83 631.18 L142.59 631.16 L143.36 631.15 L144.12 631.14 L144.89 631.12 L145.65 631.11 L146.41 631.09 L147.18 631.08 L147.94 631.06 L148.70 631.05 L149.46 631.03 L150.23 631.01 L150.99 630.99 L151.75 630.97 L152.51 630.96 L153.27 630.94 L154.04 630.92 L154.80 630.89 L155.56 630.87 L156.32 630.85 L157.08 630.83 L157.84 630.80 L158.60 630.78 L159.36 630.75 L160.12 630.73 L160.88 630.70 L161.64 630.68 L162.40 630.65 L163.16 630.62 L163.92 630.59 L164.67 630.56 L165.43 630.53 L166.19 630.50 L166.95 630.47 L167.71 630.44 L168.46 630.40 L169.22 630.37 L169.98 630.33 L170.74 630.30 L171.49 630.26 L172.25 630.22 L173.01 630.19 L173.76 630.15 L174.52 630.11 L175.27 630.07 L176.03 630.02 L176.79 629.98 L177.54 629.94 L178.30 629.90 L179.05 629.85 L179.80 629.80 L180.56 629.76 L181.31 629.71 L182.07 629.66 L182.82 629.61 L183.58 629.56 L184.33 629.51 L185.08 629.46 L185.84 629.41 L186.59 629.35 L187.34 629.30 L188.09 629.24 L188.85 629.18 L189.60 629.13 L190.35 629.07 L191.10 629.01 L191.85 628.94 L192.61 628.88 L193.36 628.82 L194.11 628.75 L194.86 628.69 L195.61 628.62 L196.36 628.56 L197.11 628.49 L197.86 628.42 L198.61 628.35 L199.36 628.27 L200.11 628.20 L200.86 628.13 L201.61 628.05 L202.36 627.98 L203.11 627.90 L203.85 627.82 L204.60 627.74 L205.35 627.66 L206.10 627.58 L206.85 627.49 L207.60 627.41 L208.34 627.32 L209.09 627.24 L209.84 627.15 L210.58 627.06 L211.33 626.97 L212.08 626.87 L212.83 626.78 L213.57 626.69 L214.32 626.59 L215.06 626.49 L215.81 626.40 L216.56 626.30 L217.30 626.19 L218.05 626.09 L218.79 625.99 L219.54 625.88 L220.28 625.78 L221.03 625.67 L221.77 625.56 L222.51 625.45 L223.26 625.34 L224.00 625.22 L224.75 625.11 L225.49 624.99 L226.23 624.88 L226.98 624.76 L227.72 624.64 L228.46 624.51 L229.21 624.39 L229.95 624.27 L230.69 624.14 L231.43 624.01 L232.18 623.88 L232.92 623.75 L233.66 623.62 L234.40 623.49 L235.14 623.35 L235.88 623.21 L236.63 623.07 L237.37 622.93 L238.11 622.79 L238.85 622.65 L239.59 622.51 L240.33 622.36 L241.07 622.21 L241.81 622.06 L242.55 621.91 L243.29 621.76 L244.03 621.60 L244.77 621.45 L245.51 621.29 L246.25 621.13 L246.98 620.97 L247.72 620.81 L248.46 620.64 L249.20 620.48 L249.94 620.31 L250.68 620.14 L251.41 619.97 L252.15 619.80 L252.89 619.62 L253.63 619.45 L254.37 619.27 L255.10 619.09 L255.84 618.91 L256.58 618.72 L257.31 618.54 L258.05 618.35 L258.79 618.16 L259.52 617.97 L260.26 617.78 L260.99 617.59 L261.73 617.39 L262.47 617.19 L263.20 616.99 L263.94 616.79 L264.67 616.59 L265.41 616.38 L266.14 616.18 L266.88 615.97 L267.61 615.76 L268.35 615.54 L269.08 615.33 L269.81 615.11 L270.55 614.89 L271.28 614.67 L272.02 614.45 L272.75 614.23 L273.48 614.00 L274.22 613.77 L274.95 613.54 L275.68 613.31 L276.42 613.08 L277.15 612.84 L277.88 612.61 L278.61 612.37 L279.35 612.13 L280.08 611.89 L280.81 611.64 L281.54 611.40 L282.27 611.15 L283.01 610.91 L283.74 610.66 L284.47 610.41 L285.20 610.16 L285.93 609.90 L286.66 609.65 L287.39 609.40 L288.12 609.14 L288.85 608.88 L289.59 608.62 L290.32 608.36 L291.05 608.10 L291.78 607.84 L292.51 607.58 L293.24 607.31 L293.97 607.05 L294.69 606.78 L295.42 606.52 L296.15 606.25 L296.88 605.98 L297.61 605.71 L298.34 605.44 L299.07 605.17 L299.80 604.90 L300.53 604.63 L301.25 604.36 L301.98 604.08 L302.71 603.81 L303.44 603.54 L304.17 603.26 L304.89 602.99 L305.62 602.71 L306.35 602.43 L307.08 602.16 L307.80 601.88 L308.53 601.60 L309.26 601.33 L309.98 601.05 L310.71 600.77 L311.44 600.49 L312.16 600.22 L312.89 599.94 L313.62 599.66 L314.34 599.38 L315.07 599.10 L315.79 598.82 L316.52 598.54 L317.25 598.27 L317.97 597.99 L318.70 597.71 L319.42 597.43 L320.15 597.15 L320.87 596.88 L321.60 596.60 L322.32 596.32 L323.05 596.05 L323.77 595.77 L324.50 595.49 L325.22 595.22 L325.94 594.94 L326.67 594.67 L327.39 594.40 L328.12 594.12 L328.84 593.85 L329.56 593.58 L330.29 593.31 L331.01 593.03 L331.73 592.76 L332.46 592.49 L333.18 592.23 L333.90 591.96 L334.63 591.69 L335.35 591.42 L336.07 591.16 L336.79 590.90 L337.52 590.63 L338.24 590.37 L338.96 590.11 L339.68 589.85 L340.40 589.59 L341.13 589.33 L341.85 589.07 L342.57 588.82 L343.29 588.56 L344.01 588.31 L344.73 588.06 L345.45 587.81 L346.18 587.56 L346.90 587.31 L347.62 587.06 L348.34 586.82 L349.06 586.57 L349.78 586.33 L350.50 586.09 L351.22 585.85 L351.94 585.62 L352.66 585.38 L353.38 585.15 L354.10 584.91 L354.82 584.68 L355.54 584.45 L356.26 584.23 L356.98 584.00 L357.70 583.78 L358.42 583.56 L359.14 583.34 L359.86 583.12 L360.58 582.90 L361.30 582.69 L362.01 582.48 L362.73 582.27 L363.45 582.06 L364.17 581.85 L364.89 581.65 L365.61 581.45 L366.33 581.25 L367.04 581.05 L367.76 580.86 L368.48 580.67 L369.20 580.48 L369.92 580.29 L370.63 580.11 L371.35 579.93 L372.07 579.75 L372.79 579.57 L373.50 579.39 L374.22 579.22 L374.94 579.05 L375.66 578.89 L376.37 578.72 L377.09 578.56 L377.81 578.40 L378.52 578.25 L379.24 578.09 L379.96 577.94 L380.67 577.80 L381.39 577.65 L382.11 577.51 L382.82 577.37 L383.54 577.24" fill="none" stroke="#000" stroke-width="2.1" stroke-dasharray="2.1 2.1"/>
<text x="70" y="640.8" text-anchor="end" font-size="17">0</text>
<text x="70" y="599.5" text-anchor="end" font-size="17">0.2</text>
<text x="70" y="558.3" text-anchor="end" font-size="17">0.4</text>
<text x="70" y="517.0" text-anchor="end" font-size="17">0.6</text>
<text x="70" y="475.8" text-anchor="end" font-size="17">0.8</text>
<text x="70" y="434.6" text-anchor="end" font-size="17">1</text>
<text x="70" y="393.3" text-anchor="end" font-size="17">1.2</text>
<text x="85.7" y="661.8" text-anchor="middle" font-size="17">1.4</text>
<text x="197.0" y="661.8" text-anchor="middle" font-size="17">1.45</text>
<text x="308.4" y="661.8" text-anchor="middle" font-size="17">1.5</text>
<text x="419.7" y="661.8" text-anchor="middle" font-size="17">1.55</text>
<text x="531.0" y="661.8" text-anchor="middle" font-size="17">1.6</text>
<g transform="rotate(-90)" font-weight="bold">
<text x="-604.6" y="29.2" font-size="22" font-style="italic">j</text>
<text x="-596.5" y="36.2" font-size="12.4" font-style="italic">charge</text>
<text x="-549.2" y="29.1" font-size="22">/</text>
<text x="-535.8" y="29.1" font-size="22">mA</text>
<text x="-495" y="29.1" font-size="22">mC</text>
<text x="-459.7" y="22" font-size="12">&#8722;1</text>
<text x="-444.8" y="37" font-size="13">IrOx</text>
</g>
<g font-weight="bold" font-size="22.5">
<text x="241.8" y="685.1" font-style="italic">E</text>
<text x="262.8" y="685.1">vs</text>
<text x="296.2" y="685.1">RHE</text>
<text x="343.9" y="685.1">/</text>
<text x="355.8" y="685.1">V</text>
</g>
<text x="265.5" y="716" font-size="18" font-family='Liberation Serif', serif>(<tspan font-weight="bold">b</tspan>)</text>
<line x1="102.1" y1="402.9" x2="120.3" y2="402.9" stroke="#FF0000" stroke-width="2.2" stroke-linecap="round" stroke-dasharray="6.4 8.3"/>
<text x="122.6" y="407.7" font-size="14.85">IrOx/bTNTs (open structure)</text>
<line x1="101" y1="429.7" x2="121.2" y2="429.7" stroke="#0070C0" stroke-width="2.5"/>
<text x="122.6" y="434.5" font-size="14.85">IrOx(Ni)/bTNTs (close-packed)</text>
<line x1="101.2" y1="456.6" x2="120.2" y2="456.6" stroke="#000" stroke-width="2" stroke-dasharray="2 2.23"/>
<text x="122.6" y="461.2" font-size="14.85">IrOx(Ni)/TNTs (close-packed)</text>
</svg>
</body></html>
